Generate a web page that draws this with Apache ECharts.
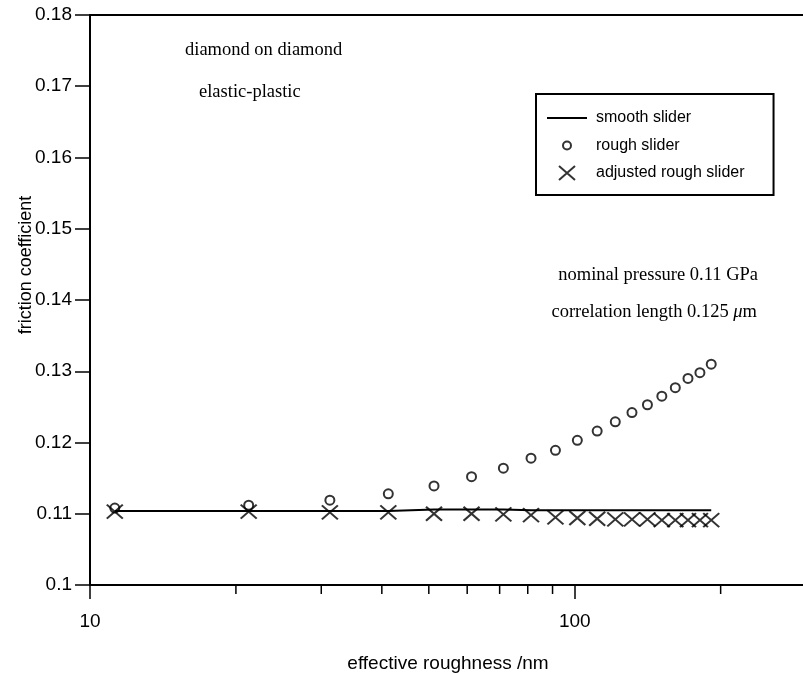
<!DOCTYPE html>
<html>
<head>
<meta charset="utf-8">
<script src="https://cdn.jsdelivr.net/npm/echarts@6/dist/echarts.min.js"></script>
<style>
  html,body{margin:0;padding:0;background:#fff}
  #root{width:803px;height:673px}
</style>
</head>
<body>
<div id="root"></div>
<script>
// effective roughness (nm) at which each model was evaluated
const roughness = [11.25, 21.25, 31.25, 41.25, 51.25, 61.25, 71.25, 81.25, 91.25, 101.25,
  111.25, 121.25, 131.25, 141.25, 151.25, 161.25, 171.25, 181.25, 191.25];
// friction coefficient
const smoothSlider = [0.1104, 0.1104, 0.1104, 0.1104, 0.1106, 0.1106, 0.1106, 0.1105, 0.1105, 0.1105,
  0.1105, 0.1105, 0.1105, 0.1105, 0.1105, 0.1105, 0.1105, 0.1105, 0.1105];
const roughSlider = [0.1108, 0.1112, 0.1119, 0.1128, 0.1139, 0.1152, 0.1164, 0.1178, 0.1189, 0.1203,
  0.1216, 0.1229, 0.1242, 0.1253, 0.1265, 0.1277, 0.1290, 0.1298, 0.1310];
const adjustedRough = [0.1103, 0.1103, 0.1102, 0.1102, 0.1100, 0.1100, 0.1099, 0.1098, 0.1095, 0.1094,
  0.1093, 0.1092, 0.1092, 0.1092, 0.1091, 0.1091, 0.1091, 0.1091, 0.1091];
// unlabelled ticks along the log axis
const minorTicks = [20, 30, 40, 50, 60, 70, 80, 90, 200];

const SANS = '"Liberation Sans", Arial, Helvetica, sans-serif';
const SERIF = '"Liberation Serif", "Times New Roman", serif';
const CROSS = 'path://M0,0L16,14M16,0L0,14';
const RING = 'path://M0,0M14,14M11,7A4,4,0,1,1,3,7A4,4,0,1,1,11,7Z';
const BAR = 'path://M0,6L40,6L40,8L0,8Z';

const zip = (xs, ys) => xs.map((x, i) => [x, ys[i]]);

const chart = echarts.init(document.getElementById('root'), null, {renderer:'canvas'});
chart.setOption({
  animation:false,
  backgroundColor:'#fff',
  grid:{left:90, top:15, width:716, height:570, show:true, borderColor:'#000', borderWidth:2,
    containLabel:false, outerBoundsMode:'none'},
  xAxis:{
    type:'log', logBase:10, min:10, max:300,
    name:'effective roughness /nm', nameLocation:'middle', nameGap:69,
    nameTextStyle:{fontFamily:SANS, fontSize:19, color:'#000'},
    axisLine:{lineStyle:{color:'#000', width:2}},
    axisTick:{length:14, lineStyle:{color:'#000', width:1.5}},
    axisLabel:{margin:27, fontFamily:SANS, fontSize:19, color:'#000', showMaxLabel:false,
      formatter:v => (v === 10 || v === 100) ? String(v) : ''},
    splitLine:{show:false}
  },
  yAxis:{
    type:'value', min:0.1, max:0.18, interval:0.01,
    axisLine:{show:true, lineStyle:{color:'#000', width:2}},
    axisTick:{show:true, length:15, lineStyle:{color:'#000', width:1.5}},
    axisLabel:{margin:18, fontFamily:SANS, fontSize:19, color:'#000'},
    splitLine:{show:false}
  },
  legend:{
    orient:'vertical', left:536, top:94,
    padding:[16, 29, 14, 11],
    itemWidth:40, itemHeight:14, itemGap:11.5,
    borderColor:'#000', borderWidth:2,
    textStyle:{fontFamily:SANS, fontSize:16, lineHeight:16, color:'#000', padding:[0,0,0,4]},
    data:[
      {name:'smooth slider', icon:BAR, itemStyle:{color:'#000', borderWidth:0}},
      {name:'rough slider', icon:RING, itemStyle:{color:'transparent', borderColor:'#000', borderWidth:2}},
      {name:'adjusted rough slider', itemStyle:{color:'transparent', borderColor:'#000', borderWidth:2}}
    ]
  },
  graphic:[
    {type:'text', x:26, y:265, rotation:Math.PI/2,
      style:{text:'friction coefficient', font:'18px ' + SANS, fill:'#000', align:'center', verticalAlign:'middle'}},
    {type:'text', x:185, y:50,
      style:{text:'diamond on diamond', font:'18.5px ' + SERIF, fill:'#000', verticalAlign:'middle'}},
    {type:'text', x:199, y:92,
      style:{text:'elastic-plastic', font:'18.5px ' + SERIF, fill:'#000', verticalAlign:'middle'}},
    {type:'text', x:758, y:275,
      style:{text:'nominal pressure 0.11 GPa', font:'18.5px ' + SERIF, fill:'#000', align:'right', verticalAlign:'middle'}},
    {type:'text', x:757, y:312,
      style:{text:'correlation length 0.125 {i|μ}m', font:'18.5px ' + SERIF, fill:'#000', align:'right', verticalAlign:'middle',
        rich:{i:{fontStyle:'italic', fontFamily:SERIF, fontSize:18.5}}}}
  ],
  series:[
    {
      name:'smooth slider', type:'line', data:zip(roughness, smoothSlider),
      symbol:'none', lineStyle:{color:'#000', width:2}, itemStyle:{color:'#000'}, z:3
    },
    {
      name:'rough slider', type:'scatter', data:zip(roughness, roughSlider),
      symbol:'circle', symbolSize:9,
      itemStyle:{color:'transparent', borderColor:'#000', borderWidth:2}, z:4
    },
    {
      name:'adjusted rough slider', type:'scatter', data:zip(roughness, adjustedRough),
      symbol:CROSS, symbolSize:[16,14],
      itemStyle:{color:'transparent', borderColor:'#000', borderWidth:2}, z:4
    },
    {
      name:'ticks', type:'custom', silent:true, clip:false,
      data:minorTicks.map(v => [v, 0.1]),
      renderItem:(params, api) => {
        const p = api.coord([api.value(0), api.value(1)]);
        return {type:'line', shape:{x1:p[0], y1:p[1], x2:p[0], y2:p[1] + 9},
          style:{stroke:'#000', lineWidth:1.5}};
      }
    }
  ]
});
</script>
</body>
</html>
